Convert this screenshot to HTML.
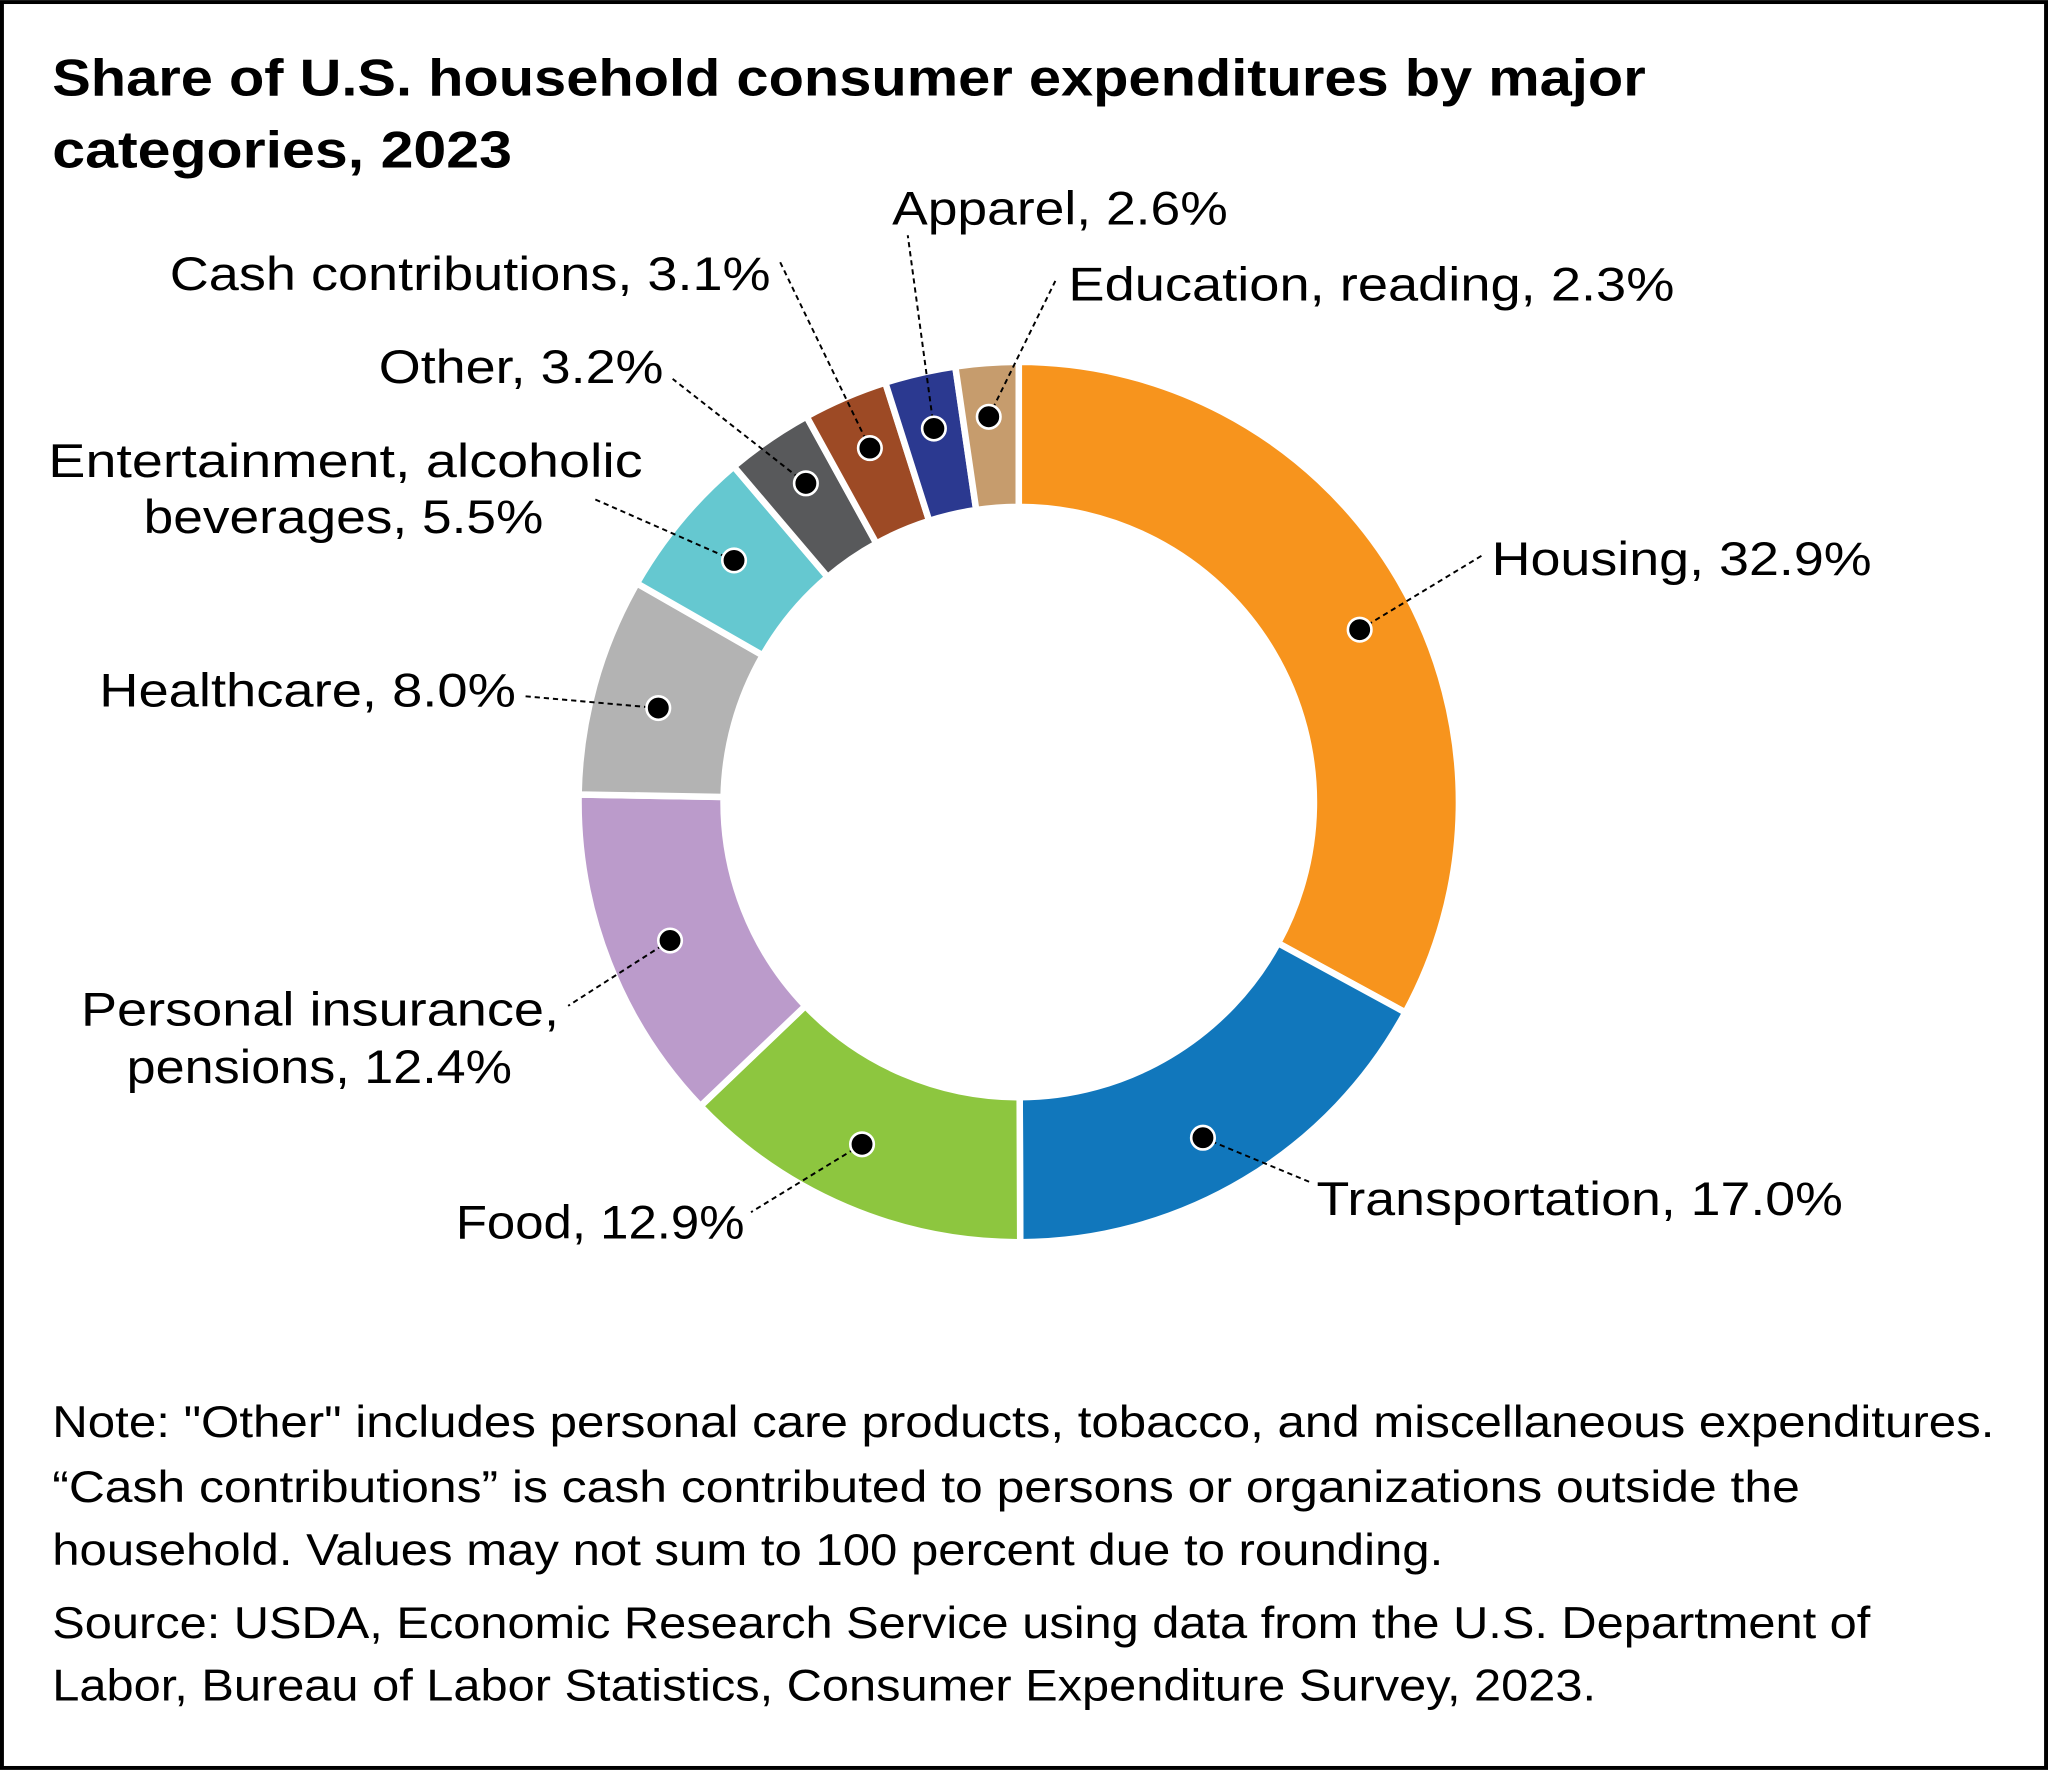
<!DOCTYPE html>
<html><head><meta charset="utf-8"><style>
html,body{margin:0;padding:0;background:#fff}
svg{display:block}
text{font-family:"Liberation Sans",sans-serif;fill:#000}
</style></head><body>
<svg width="2048" height="1770" viewBox="0 0 1568 1355" xmlns="http://www.w3.org/2000/svg">
<rect x="1.5" y="1.5" width="1565" height="1352" fill="#fff" stroke="#000" stroke-width="3"/>
<text x="40" y="73" font-size="40" font-weight="bold" textLength="1220" lengthAdjust="spacingAndGlyphs">Share of U.S. household consumer expenditures by major</text>
<text x="40" y="128" font-size="40" font-weight="bold" textLength="352" lengthAdjust="spacingAndGlyphs">categories, 2023</text>
<g stroke="#fff" stroke-width="5">
<path d="M780,277 A337,337 0 0 1 1076.0,775.1 L978.5,722.0 A226,226 0 0 0 780,388Z" fill="#F7941D"/>
<path d="M1076.0,775.1 A337,337 0 0 1 781.1,951.0 L780.7,840.0 A226,226 0 0 0 978.5,722.0Z" fill="#1177BC"/>
<path d="M781.1,951.0 A337,337 0 0 1 536.3,846.8 L616.6,770.1 A226,226 0 0 0 780.7,840.0Z" fill="#8DC63F"/>
<path d="M536.3,846.8 A337,337 0 0 1 443.0,608.2 L554.0,610.1 A226,226 0 0 0 616.6,770.1Z" fill="#BB9BCB"/>
<path d="M443.0,608.2 A337,337 0 0 1 487.6,446.5 L584.0,501.7 A226,226 0 0 0 554.0,610.1Z" fill="#B3B3B3"/>
<path d="M487.6,446.5 A337,337 0 0 1 561.8,357.1 L633.7,441.7 A226,226 0 0 0 584.0,501.7Z" fill="#65C8D0"/>
<path d="M561.8,357.1 A337,337 0 0 1 617.5,318.8 L671.0,416.0 A226,226 0 0 0 633.7,441.7Z" fill="#58595B"/>
<path d="M617.5,318.8 A337,337 0 0 1 677.8,292.9 L711.4,398.7 A226,226 0 0 0 671.0,416.0Z" fill="#9D4A25"/>
<path d="M677.8,292.9 A337,337 0 0 1 731.4,280.5 L747.4,390.4 A226,226 0 0 0 711.4,398.7Z" fill="#2B3990"/>
<path d="M731.4,280.5 A337,337 0 0 1 780,277 L780,388 A226,226 0 0 0 747.4,390.4Z" fill="#C69C6D"/>
</g>
<g stroke="#000" stroke-width="1.5" stroke-dasharray="4,3" fill="none">
<line x1="1041" y1="482" x2="1135" y2="425"/>
<line x1="921" y1="871" x2="1003" y2="905"/>
<line x1="660" y1="876" x2="575" y2="928"/>
<line x1="513" y1="720" x2="435" y2="770"/>
<line x1="504" y1="542" x2="402" y2="533"/>
<line x1="562" y1="429" x2="455" y2="382"/>
<line x1="617" y1="370" x2="515" y2="290"/>
<line x1="666" y1="343" x2="597" y2="200"/>
<line x1="715" y1="328" x2="695" y2="180"/>
<line x1="757" y1="319" x2="808" y2="215"/>
</g>
<g fill="#000" stroke="#fff" stroke-width="2">
<circle cx="1041" cy="482" r="9"/><circle cx="921" cy="871" r="9"/><circle cx="660" cy="876" r="9"/>
<circle cx="513" cy="720" r="9"/><circle cx="504" cy="542" r="9"/><circle cx="562" cy="429" r="9"/>
<circle cx="617" cy="370" r="9"/><circle cx="666" cy="343" r="9"/><circle cx="715" cy="328" r="9"/>
<circle cx="757" cy="319" r="9"/>
</g>
<g font-size="36">
<text x="1142" y="440" textLength="291" lengthAdjust="spacingAndGlyphs">Housing, 32.9%</text>
<text x="1008" y="930" textLength="403" lengthAdjust="spacingAndGlyphs">Transportation, 17.0%</text>
<text x="349" y="948" textLength="221" lengthAdjust="spacingAndGlyphs">Food, 12.9%</text>
<text x="62" y="785" textLength="366" lengthAdjust="spacingAndGlyphs">Personal insurance,</text>
<text x="97" y="829" textLength="295" lengthAdjust="spacingAndGlyphs">pensions, 12.4%</text>
<text x="76" y="541" textLength="319" lengthAdjust="spacingAndGlyphs">Healthcare, 8.0%</text>
<text x="37" y="365" textLength="455" lengthAdjust="spacingAndGlyphs">Entertainment, alcoholic</text>
<text x="110" y="408" textLength="306" lengthAdjust="spacingAndGlyphs">beverages, 5.5%</text>
<text x="290" y="293" textLength="218" lengthAdjust="spacingAndGlyphs">Other, 3.2%</text>
<text x="130" y="222" textLength="460" lengthAdjust="spacingAndGlyphs">Cash contributions, 3.1%</text>
<text x="683" y="172" textLength="257" lengthAdjust="spacingAndGlyphs">Apparel, 2.6%</text>
<text x="818" y="230" textLength="464" lengthAdjust="spacingAndGlyphs">Education, reading, 2.3%</text>
</g>
<g font-size="34">
<text x="40" y="1100" textLength="1487" lengthAdjust="spacingAndGlyphs">Note: "Other" includes personal care products, tobacco, and miscellaneous expenditures.</text>
<text x="40" y="1150" textLength="1338" lengthAdjust="spacingAndGlyphs">“Cash contributions” is cash contributed to persons or organizations outside the</text>
<text x="40" y="1198" textLength="1065" lengthAdjust="spacingAndGlyphs">household. Values may not sum to 100 percent due to rounding.</text>
<text x="40" y="1254" textLength="1392" lengthAdjust="spacingAndGlyphs">Source: USDA, Economic Research Service using data from the U.S. Department of</text>
<text x="40" y="1302" textLength="1182" lengthAdjust="spacingAndGlyphs">Labor, Bureau of Labor Statistics, Consumer Expenditure Survey, 2023.</text>
</g>
</svg>
</body></html>
